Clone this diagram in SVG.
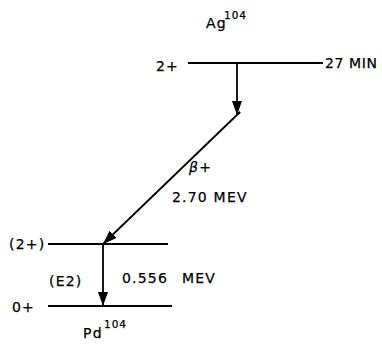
<svg xmlns="http://www.w3.org/2000/svg" width="382" height="345" viewBox="0 0 382 345">
<defs>
<marker id="ah" viewBox="0 0 14 10" refX="14" refY="5" markerWidth="14" markerHeight="10" markerUnits="userSpaceOnUse" orient="auto">
<path d="M0,0 L14,5 L0,10 Z" fill="#000"/>
</marker>
</defs>
<style>
text{font-family:"DejaVu Sans","Liberation Sans",sans-serif;font-size:14px;fill:#000;stroke:#000;stroke-width:0.25;letter-spacing:1.2px}
.sup{font-size:10.5px;letter-spacing:1px}
.lvl{stroke:#000;stroke-width:2;fill:none}
.arr{stroke:#000;stroke-width:1.8;fill:none}
</style>
<rect width="382" height="345" fill="#fff"/>
<g id="ag104">
<text x="206" y="28">Ag</text>
<text class="sup" x="224" y="19">104</text>
<line class="lvl" x1="188" y1="63" x2="323" y2="63"/>
<text x="156" y="71">2+</text>
<text x="325" y="68" style="letter-spacing:0.6px">27 MIN</text>
</g>
<g id="pd104-2">
<line class="lvl" x1="48" y1="244" x2="168" y2="244"/>
<text x="9" y="249">(2+)</text>
</g>
<g id="pd104-0">
<line class="lvl" x1="48" y1="306" x2="172" y2="306"/>
<text x="12" y="312">0+</text>
<text x="83" y="338">Pd</text>
<text class="sup" x="104" y="328">104</text>
</g>
<g id="connectors">
<line class="arr" x1="237" y1="63" x2="237" y2="115" marker-end="url(#ah)"/>
<line class="arr" x1="237" y1="115" x2="240" y2="112"/>
<line class="arr" x1="240" y1="112" x2="103" y2="244" marker-end="url(#ah)"/>
<line class="arr" x1="103" y1="244" x2="103" y2="306" marker-end="url(#ah)"/>
<text x="189" y="172" font-style="italic">β+</text>
<text x="172" y="202">2.70 MEV</text>
<text x="49" y="286">(E2)</text>
<text x="122" y="283">0.556</text>
<text x="182" y="283">MEV</text>
</g>
</svg>
